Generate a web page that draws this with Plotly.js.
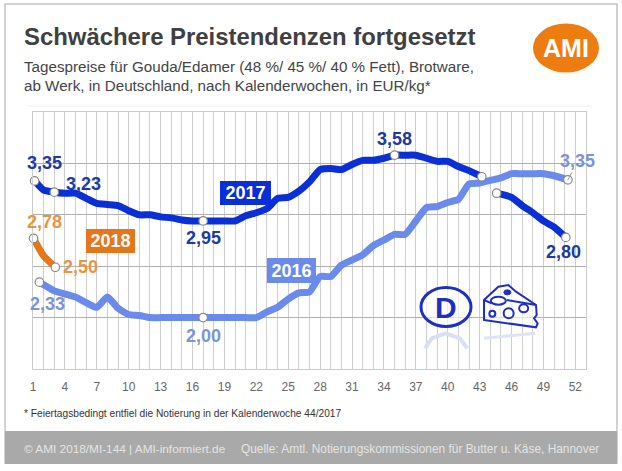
<!DOCTYPE html>
<html><head><meta charset="utf-8">
<script src="https://cdn.plot.ly/plotly-3.0.1.min.js"></script>
<style>html,body{margin:0;padding:0;background:#fff}</style></head>
<body><div id="chart" style="width:622px;height:471px"></div>
<script>
const weeks2017a=[1.15,2,3,4,5,6,7,8,9,10,11,12,13,14,15,16,17,18,19,20,21,22,23,24,25,26,27,28,29,30,31,32,33,34,35,36,37,38,39,40,41,42,43.2];
const values2017a=[3.33,3.24,3.22,3.21,3.21,3.16,3.11,3.10,3.09,3.04,3.00,3.00,2.98,2.97,2.95,2.94,2.94,2.94,2.94,2.94,2.99,3.02,3.06,3.16,3.17,3.23,3.32,3.44,3.45,3.44,3.49,3.53,3.53,3.55,3.58,3.58,3.58,3.55,3.52,3.52,3.47,3.43,3.37];
const weeks2017b=[44.6,46,47,48,49,50,51.1];
const values2017b=[3.21,3.17,3.09,3.02,2.94,2.88,2.78];
const weeks2016=[1.6,2,3,4,5,6,7,8,9,10,11,12,13,14,15,16,17,18,19,20,21,22,23,24,25,26,27,28,29,30,31,32,33,34,35,36,37,38,39,40,41,42,43,44,45,46,47,48,49,50,51.3];
const values2016=[2.345,2.32,2.26,2.23,2.20,2.145,2.10,2.20,2.09,2.03,2.02,2.00,2.00,2.00,2.00,2.00,2.00,2.00,2.00,2.00,2.00,2.00,2.055,2.10,2.18,2.24,2.25,2.40,2.40,2.51,2.56,2.61,2.70,2.755,2.81,2.81,2.94,3.07,3.08,3.12,3.15,3.30,3.31,3.335,3.36,3.40,3.40,3.40,3.40,3.38,3.34];
const weeks2018=[1.05,2,3.1];
const values2018=[2.77,2.60,2.49];
const tickWeeks=[1,4,7,10,13,16,19,22,25,28,31,34,37,40,43,46,49,52];
const blue='#0a2fd6',light='#6b8bec',orange='#e5761b';
const W=622,H=471,L=33,R=586,T=112,B=369;
const px=x=>(x-L)/(R-L), py=y=>(B-y)/(B-T);
const endX=[weeks2017a[0],weeks2017a[2],weeks2017a[16],weeks2017a[34],weeks2017a[42],weeks2017b[0],weeks2017b[6],weeks2016[0],weeks2016[16],weeks2016[50],weeks2018[0],weeks2018[2]];
const endY=[values2017a[0],values2017a[2],values2017a[16],values2017a[34],values2017a[42],values2017b[0],values2017b[6],values2016[0],values2016[16],values2016[50],values2018[0],values2018[2]];
const line=(x,y,c)=>({x,y,mode:'lines',line:{color:c,width:7,shape:'spline',smoothing:0.5},hoverinfo:'skip',showlegend:false,cliponaxis:false});
const traces=[line(weeks2016,values2016,light),line(weeks2017a,values2017a,blue),line(weeks2017b,values2017b,blue),line(weeks2018,values2018,orange),
 {x:endX,y:endY,mode:'markers',marker:{size:8.5,color:'#fff',line:{color:'#888',width:1.2}},showlegend:false,hoverinfo:'skip',cliponaxis:false}];
const lab=(text,x,y,xs,ys,c)=>({text:'<b>'+text+'</b>',x,y,xref:'x',yref:'y',xshift:xs,yshift:ys,showarrow:false,xanchor:'center',yanchor:'middle',font:{family:'Liberation Sans',size:18,color:c}});
const dk='#1c3aa5',lb='#7b94d8',og='#ea9342';
const txt=(text,x,y,size,color,bold,anchor)=>({text:bold?'<b>'+text+'</b>':text,xref:'paper',yref:'paper',x:px(anchor?x:x-2),y:py(y),xanchor:anchor||'left',yanchor:'middle',showarrow:false,font:{family:'Liberation Sans',size,color}});
const box=(text,x0,x1,y0,y1,c)=>({text:'<b>'+text+'</b>',xref:'paper',yref:'paper',x:px((x0+x1)/2),y:py((y0+y1)/2),xanchor:'center',yanchor:'middle',width:x1-x0,height:y1-y0,bgcolor:c,borderpad:0,borderwidth:0,showarrow:false,font:{family:'Liberation Sans',size:18,color:'#fff'}});
const annotations=[
 lab('3,35',weeks2017a[0],values2017a[0],10,18,dk),
 lab('3,23',weeks2017a[2],values2017a[2],29,8,dk),
 lab('2,95',weeks2017a[16],values2017a[16],0,-17,dk),
 lab('3,58',weeks2017a[34],values2017a[34],0,16,dk),
 lab('2,80',weeks2017b[6],values2017b[6],-2,-15,dk),
 lab('2,33',weeks2016[0],values2016[0],8,-22,lb),
 lab('2,00',weeks2016[16],values2016[16],0,-18,lb),
 lab('2,78',weeks2018[0],values2018[0],11,16,og),
 lab('2,50',weeks2018[2],values2018[2],25,0,og),
 {text:'<b>3,35</b>',x:weeks2016[50],y:values2016[50],xref:'x',yref:'y',ax:10,ay:-19,showarrow:true,arrowhead:0,arrowwidth:1,arrowcolor:'#999',font:{family:'Liberation Sans',size:18,color:lb}},
 box('2017',220,271,181,205,blue),box('2018',86,135,229,253,orange),box('2016',267,316,258,283,light),
 txt('Schwächere Preistendenzen fortgesetzt',24,37,23.9,'#404040',true),
 txt('Tagespreise für Gouda/Edamer (48 %/ 45 %/ 40 % Fett), Brotware,',24,67,15.2,'#444',false),
 txt('ab Werk, in Deutschland, nach Kalenderwochen, in EUR/kg*',24,86,15.2,'#444',false),
 txt('* Feiertagsbedingt entfiel die Notierung in der Kalenderwoche 44/2017',24,413,10.2,'#333',false),
 txt('© AMI 2018/MI-144 | AMI-informiert.de',24,449,11.8,'#e4e4e4',false),
 txt('Quelle: Amtl. Notierungskommissionen für Butter u. Käse, Hannover',241,449,11.9,'#e4e4e4',false),
 txt('AMI',566,48,25,'#fff',true,'center'),
 txt('D',446,307,30,'#1f2fc0',true,'center')
];
const rect=(x0,y0,x1,y1,fill,lc,lw,layer)=>({type:'rect',xref:'paper',yref:'paper',x0:px(x0),x1:px(x1),y0:py(y0),y1:py(y1),fillcolor:fill,line:{color:lc||fill,width:lw||0},layer:layer||'below'});
const ell=(cx,cy,rx,ry,fill,lc,lw)=>({type:'circle',xref:'paper',yref:'paper',x0:px(cx-rx),x1:px(cx+rx),y0:py(cy-ry),y1:py(cy+ry),fillcolor:fill,line:{color:lc||fill,width:lw||0},layer:'above'});
const poly=(pts,close,lc,lw,fill)=>({type:'path',xref:'paper',yref:'paper',path:pts.map((p,i)=>(i?'L':'M')+px(p[0]).toFixed(4)+','+py(p[1]).toFixed(4)).join(' ')+(close?' Z':''),line:{color:lc,width:lw},fillcolor:fill||'rgba(0,0,0,0)',layer:'above'});
const c7=(x,y)=>[410+x/3,270+y/3];
const ink='#1f2fc0';
const shapes=[
 rect(5,4,617,463,'#fff','#c4c4c4',1.5),
 rect(5,431,617,464,'#a9a9a9'),
 {type:'line',xref:'paper',yref:'paper',x0:px(27),x1:px(592),y0:py(106),y1:py(106),line:{color:'#f0f0f0',width:1},layer:'below'},
 ell(566,48,33,24.5,'#ee7d11'),
 ell(446,307,25,19.5,'rgba(255,255,255,0.65)',ink,3),
 poly([c7(45,235),c7(65,205),c7(107,190),c7(150,205),c7(172,235)],false,'#d9dff5',4),
 poly([c7(222,205),c7(375,190)],false,'#dfe3f5',3),
 poly([c7(222,150),c7(378,172),c7(383,160),c7(372,145),c7(380,135),c7(378,105),c7(318,65),c7(295,45),c7(265,50),c7(222,90)],true,ink,2,'rgba(255,255,255,0.6)'),
 poly([c7(222,90),c7(245,100)],false,ink,2),
 poly([c7(290,90),c7(378,105)],false,ink,2),
 ell(...c7(265,92),7.5,4,'rgba(255,255,255,0.6)',ink,2),
 ell(...c7(292,67),3.5,2.5,ink,ink,1),
 ell(...c7(247,131),3,3,'#fff',ink,2),
 ell(...c7(296,130),5,5,'#fff',ink,2),
 ell(...c7(341,115),4.5,4,'#fff',ink,2)
];
Plotly.newPlot('chart',traces,{
 width:W,height:H,margin:{l:L,r:W-R,t:T,b:H-B,pad:0},paper_bgcolor:'#fff',plot_bgcolor:'#fff',showlegend:false,
 xaxis:{range:[1,53],tickmode:'array',tickvals:tickWeeks,ticktext:tickWeeks.map(String),tickfont:{family:'Liberation Sans',size:12,color:'#666'},ticks:'',ticklabelstandoff:7,
  showgrid:false,zeroline:false,showline:true,mirror:true,linecolor:'#ccc',linewidth:1,
  minor:{dtick:1,tick0:1,showgrid:true,gridcolor:'#cfcfcf',gridwidth:1,ticks:''}},
 yaxis:{range:[1.5,4],dtick:0.5,tick0:1.5,showticklabels:false,ticks:'',showgrid:true,gridcolor:'#b0b0b0',gridwidth:1,zeroline:false,showline:true,mirror:true,linecolor:'#ccc',linewidth:1},
 annotations,shapes
},{displayModeBar:false,staticPlot:true});
</script></body></html>
